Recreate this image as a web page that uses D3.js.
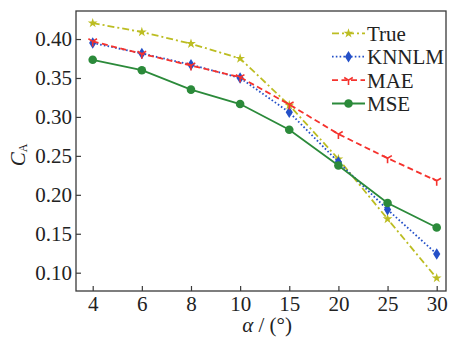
<!DOCTYPE html>
<html>
<head>
<meta charset="utf-8">
<script src="https://cdn.jsdelivr.net/npm/d3@7"></script>
<style>
  body { margin: 0; background: #fff; }
  svg text { font-family: "Liberation Serif", "Times New Roman", serif; fill: #222; }
</style>
</head>
<body>
<div id="chart"></div>
<script>
// angle of attack categories (equally spaced on the axis)
const alphas = ["4", "6", "8", "10", "15", "20", "25", "30"];

// series values
const trueVals  = [0.4205, 0.409, 0.394, 0.375, 0.315, 0.246, 0.169, 0.093];
const knnlmVals = [0.395, 0.3815, 0.367, 0.350, 0.306, 0.242, 0.181, 0.124];
const maeVals   = [0.397, 0.381, 0.366, 0.351, 0.316, 0.278, 0.247, 0.218];
const mseVals   = [0.3734, 0.360, 0.335, 0.3165, 0.2835, 0.2377, 0.1894, 0.158];

const yTicks = [0.10, 0.15, 0.20, 0.25, 0.30, 0.35, 0.40];

const series = [
  {name: "True",  values: trueVals,  color: "#bcbd22", dash: "7,3,2,3", marker: "star"},
  {name: "KNNLM", values: knnlmVals, color: "#2450c8", dash: "1.6,2.2", marker: "diamond"},
  {name: "MAE",   values: maeVals,   color: "#f5322d", dash: "6,3.5",   marker: "tri"},
  {name: "MSE",   values: mseVals,   color: "#2b8a3a", dash: null,      marker: "circle"}
];

// setup canvas
var width = 454, height = 339;
var svg = d3.select("#chart").append("svg")
  .attr("width", width)
  .attr("height", height);

var frame = {left: 76, right: 446, top: 11, bottom: 291};

var x = d3.scalePoint()
  .domain(alphas)
  .range([92.7, 436.7]);

var y = d3.scaleLinear()
  .domain([0.0765, 0.436])
  .range([frame.bottom, frame.top]);

// frame box
svg.append("rect")
  .attr("x", frame.left)
  .attr("y", frame.top)
  .attr("width", frame.right - frame.left)
  .attr("height", frame.bottom - frame.top)
  .attr("fill", "none")
  .attr("stroke", "#3a3a3a")
  .attr("stroke-width", 1.3);

// x-axis, ticks pointing inward
var xAxis = svg.append("g")
  .attr("transform", "translate(0," + frame.bottom + ")")
  .call(d3.axisBottom(x).tickSize(-5).tickPadding(5));
xAxis.select(".domain").remove();
xAxis.selectAll(".tick line").attr("stroke", "#3a3a3a").attr("stroke-width", 1.2);
xAxis.selectAll("text").style("font-size", "21px").attr("fill", "#222");

// y-axis
var yAxis = svg.append("g")
  .attr("transform", "translate(" + frame.left + ",0)")
  .call(d3.axisLeft(y).tickValues(yTicks).tickFormat(d3.format(".2f")).tickSize(-5).tickPadding(4));
yAxis.select(".domain").remove();
yAxis.selectAll(".tick line").attr("stroke", "#3a3a3a").attr("stroke-width", 1.2);
yAxis.selectAll("text").style("font-size", "21px").attr("fill", "#222");

// axis labels
var xLabel = svg.append("text")
  .attr("x", 267)
  .attr("y", 332)
  .attr("text-anchor", "middle")
  .style("font-size", "21px");
xLabel.append("tspan").style("font-style", "italic").text("α");
xLabel.append("tspan").text(" / (°)");

var yLabel = svg.append("text")
  .attr("transform", "translate(25,155) rotate(-90)")
  .attr("text-anchor", "middle")
  .style("font-size", "21px");
yLabel.append("tspan").style("font-style", "italic").text("C");
yLabel.append("tspan").attr("dy", 2).style("font-size", "12px").text("A");

// marker shapes
function drawMarker(g, type, color) {
  if (type === "star") {
    g.append("path").attr("d", d3.symbol(d3.symbolStar, 30)()).attr("fill", color);
  } else if (type === "diamond") {
    g.append("path").attr("d", "M0,-5.8L3.6,0L0,5.8L-3.6,0Z").attr("fill", color);
  } else if (type === "tri") {
    g.append("path").attr("d", "M0,0L0,5M0,0L-4.3,-2.6M0,0L4.3,-2.6")
      .attr("stroke", color).attr("stroke-width", 1.6).attr("fill", "none");
  } else {
    g.append("circle").attr("r", 4.3).attr("fill", color);
  }
}

var line = d3.line()
  .x(function(d, i) { return x(alphas[i]); })
  .y(function(d) { return y(d); });

series.forEach(function(s) {
  var g = svg.append("g");
  g.append("path")
    .attr("d", line(s.values))
    .attr("fill", "none")
    .attr("stroke", s.color)
    .attr("stroke-width", 1.8)
    .attr("stroke-dasharray", s.dash);
  g.selectAll("g.mk")
    .data(s.values)
    .enter().append("g")
    .attr("class", "mk")
    .attr("transform", function(d, i) { return "translate(" + x(alphas[i]) + "," + y(d) + ")"; })
    .each(function() { drawMarker(d3.select(this), s.marker, s.color); });
});

// legend
var legend = svg.append("g").attr("transform", "translate(332,33.3)");
series.forEach(function(s, i) {
  var row = legend.append("g").attr("transform", "translate(0," + (i * 23.4) + ")");
  row.append("line")
    .attr("x1", 0).attr("x2", 33)
    .attr("stroke", s.color)
    .attr("stroke-width", 1.8)
    .attr("stroke-dasharray", s.dash);
  drawMarker(row.append("g").attr("transform", "translate(16.5,0)"), s.marker, s.color);
  row.append("text")
    .attr("x", 35)
    .attr("y", 7.5)
    .style("font-size", "21px")
    .text(s.name);
});
</script>
</body>
</html>
